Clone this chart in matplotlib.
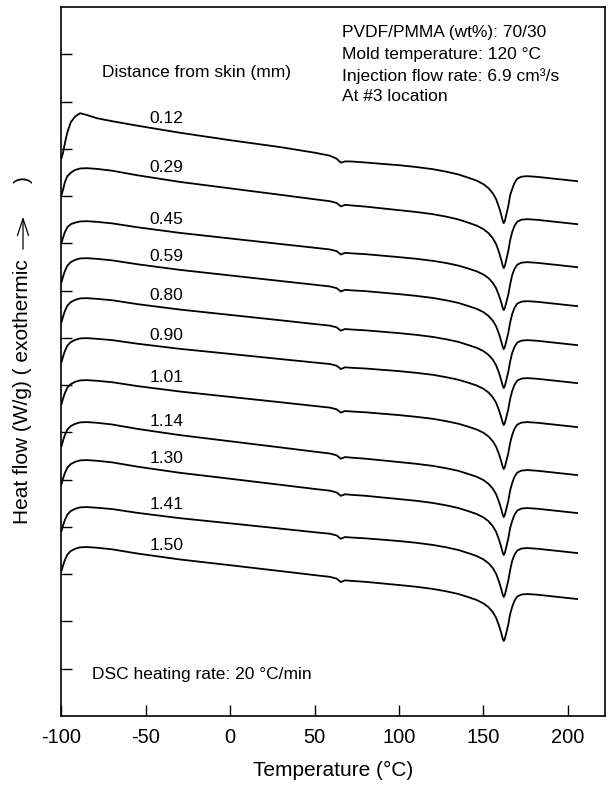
import matplotlib
matplotlib.use("Agg")
import matplotlib.pyplot as plt
from matplotlib.patches import FancyArrowPatch
import numpy as np

plt.rcParams["font.family"] = ["Liberation Sans", "DejaVu Sans"]
plt.rcParams["axes.unicode_minus"] = False

# Temperature grid shared by all DSC scans (deg C)
TEMP = [-100, -99, -98, -96.5, -94.5, -92, -89, -85, -79, -70, -55, -30, 0,
        30, 50, 59, 63, 65.5, 68, 72, 80, 90, 100, 110, 120, 128, 135, 141,
        146, 150, 153, 155.5, 157.5, 159.2, 160.5, 161.3, 162, 162.7, 163.6,
        164.7, 165.8, 167, 168.3, 170, 172.5, 176, 182, 205.5]

DISTANCES = ["0.12", "0.29", "0.45", "0.59", "0.80", "0.90",
             "1.01", "1.14", "1.30", "1.41", "1.50"]

# vertical shift of each scan (a.u.), curves stacked for clarity
OFFSETS = [603, 548, 495, 458, 418, 378, 336, 294, 256, 209, 169]

# heat flow of each scan relative to its low-temperature maximum (a.u.)
HF_012 = [-45, -39, -30, -19, -9, -3.5, 0, -1.8, -5,
          -8, -12.5, -19.5, -27, -34, -39.5, -42.5, -45.5, -49.5, -48.2,
          -48.3, -49.3, -50.7, -52,
          -53.8, -56, -58.5, -61.2, -64.5, -67.5, -71, -75, -80, -86, -94,
          -101.5, -107, -110, -107.5, -101, -93, -82, -76, -70, -65.5, -63.5,
          -63, -63.7, -68]
HF_029 = [-27, -21, -14, -8, -4.5, -1.8, -0.3, 0, -0.7,
          -2.5, -7.1, -13.7, -20.2, -26.7, -31.1, -33.0, -34.8, -38.2, -36.7,
          -37.3, -38.4, -40.2, -42,
          -43.8, -46, -48.5, -51.2, -54.5, -57.5, -61, -65, -70, -76, -84,
          -91.5, -97, -100, -97.5, -91, -83, -72, -64, -58, -53.5, -51.5,
          -51, -51.7, -56]
HF_045 = [-22, -16, -11, -6, -3, -1.5, -0.3, 0, -0.7,
          -2.2, -6.1, -11.7, -17.3, -22.9, -26.6, -28.3, -30.0, -33.3, -31.7,
          -32.2, -33.0, -34.5, -36,
          -37.6, -39.7, -41.9, -44.4, -47.4, -50.2, -53.4, -57, -61.6, -67.1,
          -74.4, -81.2, -86.3, -89, -86.7, -80.8, -73.5, -63.4, -54, -48,
          -43.5, -41.5, -41, -41.7, -46]
HF_059 = [-24, -18, -13, -7.5, -4, -1.8, -0.3, 0, -0.7,
          -2.2, -6.1, -11.7, -17.3, -22.9, -26.6, -28.3, -30.0, -33.3, -31.7,
          -32.2, -33.0, -34.5, -36,
          -37.7, -39.8, -42.2, -44.7, -47.9, -50.7, -54, -57.8, -62.5, -68.2,
          -75.8, -82.9, -88.1, -91, -88.6, -82.5, -74.9, -64.4, -56, -50,
          -45.5, -43.5, -43, -43.7, -48]
HF_080 = [-24, -18, -13, -7.5, -4, -1.8, -0.3, 0, -0.7,
          -2.1, -6.0, -11.4, -16.8, -22.2, -25.9, -27.5, -29.2, -32.5, -30.9,
          -31.4, -32.2, -33.6, -35,
          -36.7, -38.8, -41.2, -43.7, -46.9, -49.7, -53, -56.8, -61.5, -67.2,
          -74.8, -81.9, -87.1, -90, -87.6, -81.5, -73.9, -63.4, -55, -49,
          -44.5, -42.5, -42, -42.7, -47]
HF_090 = [-24, -18, -13, -7.5, -4, -1.8, -0.3, 0, -0.7,
          -2.0, -5.6, -10.7, -15.8, -21.0, -24.4, -25.9, -27.6, -30.9, -29.2,
          -29.7, -30.4, -31.7, -33,
          -34.7, -36.7, -39.1, -41.6, -44.6, -47.4, -50.7, -54.4, -59.1,
          -64.7, -72.1, -79.1, -84.2, -87, -84.7, -78.6, -71.2, -60.9, -53,
          -47, -42.5, -40.5, -40, -40.7, -45]
HF_101 = [-24, -18, -13, -7.5, -4, -1.8, -0.3, 0, -0.7,
          -2.1, -6.0, -11.4, -16.8, -22.2, -25.9, -27.5, -29.2, -32.5, -30.9,
          -31.4, -32.2, -33.6, -35,
          -36.7, -38.7, -41.1, -43.6, -46.6, -49.4, -52.7, -56.4, -61.1,
          -66.7, -74.1, -81.1, -86.2, -89, -86.7, -80.6, -73.2, -62.9, -55,
          -49, -44.5, -42.5, -42, -42.7, -47]
HF_114 = [-24, -18, -13, -7.5, -4, -1.8, -0.3, 0, -0.7,
          -2.4, -6.8, -13, -19.2, -25.4, -29.6, -31.4, -33.2, -36.6, -35.0,
          -35.6, -36.6, -38.3, -40,
          -41.7, -43.8, -46.2, -48.7, -51.9, -54.7, -58, -61.8, -66.5, -72.2,
          -79.8, -86.9, -92.1, -95, -92.6, -86.5, -78.9, -68.4, -61, -55,
          -50.5, -48.5, -48, -48.7, -53]
HF_130 = [-24, -18, -13, -7.5, -4, -1.8, -0.3, 0, -0.7,
          -2.3, -6.6, -12.7, -18.7, -24.8, -28.9, -30.6, -32.4, -35.8, -34.2,
          -34.8, -35.7, -37.4, -39,
          -40.7, -42.9, -45.3, -47.9, -51.1, -54, -57.4, -61.2, -66, -71.8,
          -79.6, -86.8, -92.1, -95, -92.6, -86.3, -78.6, -68, -61, -55,
          -50.5, -48.5, -48, -48.7, -53]
HF_141 = [-24, -18, -13, -7.5, -4, -1.8, -0.3, 0, -0.7,
          -2.0, -5.8, -11.1, -16.3, -21.6, -25.2, -26.7, -28.4, -31.7, -30.0,
          -30.5, -31.3, -32.6, -34,
          -35.7, -37.9, -40.3, -42.9, -46.1, -49, -52.4, -56.2, -61, -66.8,
          -74.6, -81.8, -87.1, -90, -87.6, -81.3, -73.6, -63, -54, -48,
          -43.5, -41.5, -41, -41.7, -46]
HF_150 = [-24, -18, -13, -7.5, -4, -1.8, -0.3, 0, -0.7,
          -2.3, -6.5, -12.4, -18.2, -24.1, -28.1, -29.8, -31.6, -35.0, -33.3,
          -33.9, -34.8, -36.4, -38,
          -39.7, -41.9, -44.3, -46.9, -50.1, -53, -56.4, -60.2, -65, -70.8,
          -78.6, -85.8, -91.1, -94, -91.6, -85.3, -77.6, -67, -60, -54,
          -49.5, -47.5, -47, -47.7, -52]

SCANS = [HF_012, HF_029, HF_045, HF_059, HF_080, HF_090,
         HF_101, HF_114, HF_130, HF_141, HF_150]

X_TICKS = [-100, -50, 0, 50, 100, 150, 200]

INFO_LINES = ["PVDF/PMMA (wt%): 70/30",
              "Mold temperature: 120 \u00b0C",
              "Injection flow rate: 6.9 cm\u00b3/s",
              "At #3 location"]


def px(x, y):
    # pixel position -> figure fraction
    return x / 610, 1 - y / 788


fig = plt.figure(figsize=(6.10, 7.88), dpi=100)
ax = fig.add_axes([0.1008, 0.0914, 0.891, 0.8994])

temp = np.array(TEMP)
for label, off, hf in zip(DISTANCES, OFFSETS, SCANS):
    y = off + np.array(hf)
    ax.plot(temp, y, color="black", lw=1.3, solid_joinstyle="round")
    ax.text(-38, np.interp(-38, temp, y) + 12, label, fontsize=12.5,
            ha="center", va="center")

ax.set_xlim(-100, 222)
ax.set_ylim(0, 709)
ax.set_xticks(X_TICKS)
ax.set_yticks(np.arange(1, 15) * 709 / 15)
ax.set_yticklabels([])
ax.tick_params(axis="x", direction="in", length=8, width=1,
               labelsize=14.5, pad=9)
ax.tick_params(axis="y", direction="in", length=8, width=1)
for s in ax.spines.values():
    s.set_linewidth(1.2)

ax.set_xlabel("Temperature (\u00b0C)", fontsize=15, labelpad=10)

fig.text(*px(102, 72), "Distance from skin (mm)", fontsize=12.5,
         ha="left", va="center")
for i, line in enumerate(INFO_LINES):
    fig.text(*px(342, 33 + 21.3 * i), line, fontsize=12.5,
             ha="left", va="center")
fig.text(*px(92, 675), "DSC heating rate: 20 \u00b0C/min", fontsize=12.5,
         ha="left", va="center")

# y label with the exothermic arrow
fig.text(*px(23, 392), "Heat flow (W/g) ( exothermic", fontsize=15,
         rotation=90, ha="center", va="center")
fig.patches.append(FancyArrowPatch(
    px(23, 252), px(23, 214), transform=fig.transFigure,
    arrowstyle="->,head_length=12,head_width=4", lw=0.9, color="black",
    mutation_scale=1))
fig.text(*px(23, 180), ")", fontsize=15, rotation=90,
         ha="center", va="center")

fig.savefig("out.png", dpi=100)
